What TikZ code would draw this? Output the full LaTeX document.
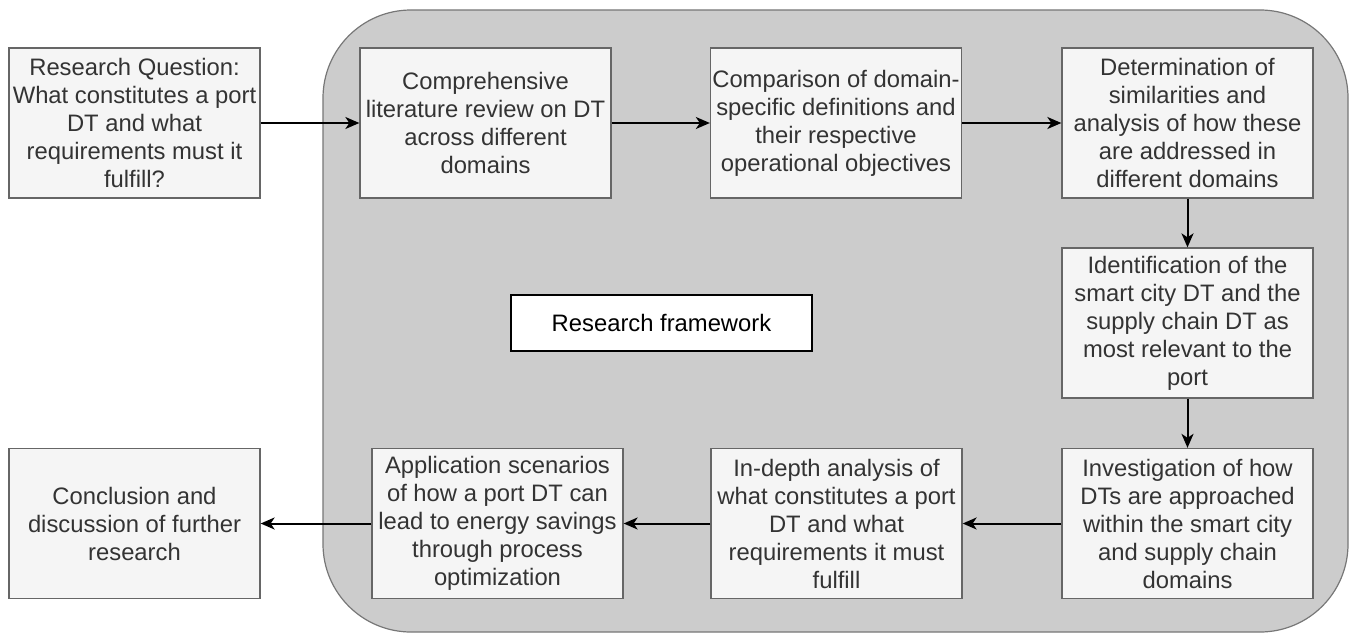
\documentclass[tikz,border=0pt]{standalone}
\usepackage{fontspec}
\setmainfont{Liberation Sans}
\usetikzlibrary{arrows.meta}
\definecolor{boxfill}{HTML}{F5F5F5}
\definecolor{boxdraw}{HTML}{666666}
\definecolor{boxtext}{HTML}{333333}
\definecolor{framefill}{HTML}{CCCCCC}
\definecolor{framedraw}{HTML}{777777}
\begin{document}
\begin{tikzpicture}[x=1pt,y=-1pt,
  stepbox/.style={draw=boxdraw,fill=boxfill,text=boxtext,line width=1.3pt,
    minimum width=251pt,minimum height=150pt,inner sep=0pt,align=center,
    font=\fontsize{23.8}{28}\selectfont},
  arr/.style={line width=2pt,draw=black,-{Stealth[length=14pt,width=12pt,inset=4pt]}}]
\useasboundingbox (0,0) rectangle (1351,634);
\draw[fill=framefill,draw=framedraw,line width=1.2pt,rounded corners=88pt] (323,10) rectangle (1348,632);

\node[stepbox] (rq) at (134.5,123) {Research Question:\\What constitutes a port\\DT and what\\requirements must it\\fulfill?};
\node[stepbox] (lit) at (485.5,123) {Comprehensive\\literature review on DT\\across different\\domains};
\node[stepbox] (cmp) at (836,123) {Comparison of domain-\\specific definitions and\\their respective\\operational objectives};
\node[stepbox] (det) at (1187.5,123) {Determination of\\similarities and\\analysis of how these\\are addressed in\\different domains};
\node[stepbox] (idn) at (1187.5,323) {Identification of the\\smart city DT and the\\supply chain DT as\\most relevant to the\\port};
\node[stepbox] (inv) at (1187.5,523.5) {Investigation of how\\DTs are approached\\within the smart city\\and supply chain\\domains};
\node[stepbox] (ind) at (836.5,523.5) {In-depth analysis of\\what constitutes a port\\DT and what\\requirements it must\\fulfill};
\node[stepbox] (app) at (497.5,523.5) {Application scenarios\\of how a port DT can\\lead to energy savings\\through process\\optimization};
\node[stepbox] (con) at (134.5,523.5) {Conclusion and\\discussion of further\\research};

\node[draw=black,fill=white,line width=1.3pt,minimum width=301pt,minimum height=56pt,inner sep=0pt,
  font=\fontsize{23.8}{28}\selectfont] (rf) at (661.5,323) {Research framework};

\draw[arr] (rq) -- (lit);
\draw[arr] (lit) -- (cmp);
\draw[arr] (cmp) -- (det);
\draw[arr] (det) -- (idn);
\draw[arr] (idn) -- (inv);
\draw[arr] (inv) -- (ind);
\draw[arr] (ind) -- (app);
\draw[arr] (app) -- (con);
\end{tikzpicture}
\end{document}
